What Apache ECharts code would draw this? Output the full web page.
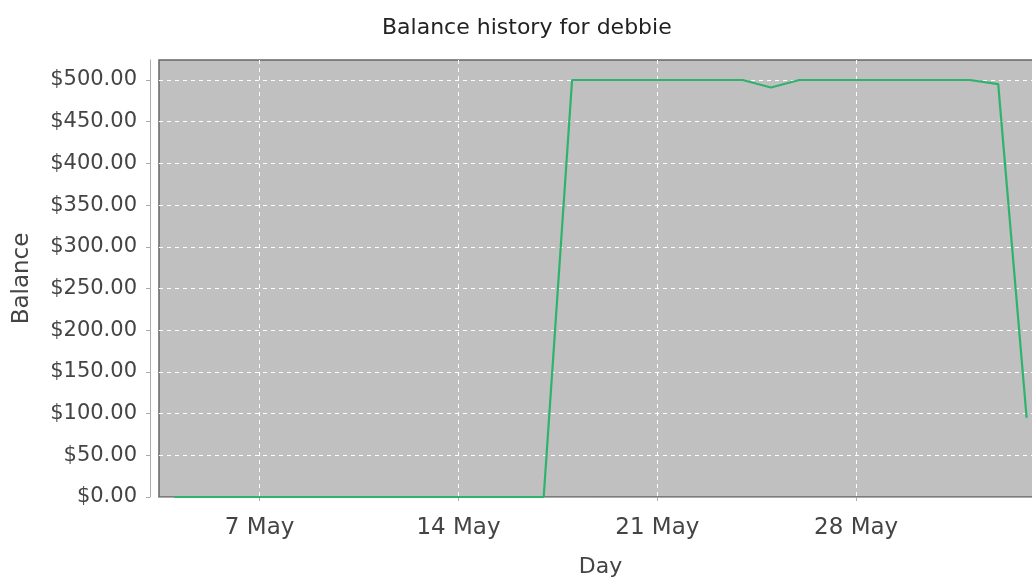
<!DOCTYPE html>
<html>
<head>
<meta charset="utf-8">
<script src="https://cdn.jsdelivr.net/npm/echarts@6/dist/echarts.min.js"></script>
<style>
  html, body { margin: 0; padding: 0; background: #ffffff; }
  #chart { width: 1032px; height: 578px; }
</style>
</head>
<body>
<div id="chart"></div>
<script>
// Daily balance for the account, one value per day
const days = [
  '2008-05-04', '2008-05-05', '2008-05-06', '2008-05-07', '2008-05-08',
  '2008-05-09', '2008-05-10', '2008-05-11', '2008-05-12', '2008-05-13',
  '2008-05-14', '2008-05-15', '2008-05-16', '2008-05-17', '2008-05-18',
  '2008-05-19', '2008-05-20', '2008-05-21', '2008-05-22', '2008-05-23',
  '2008-05-24', '2008-05-25', '2008-05-26', '2008-05-27', '2008-05-28',
  '2008-05-29', '2008-05-30', '2008-05-31', '2008-06-01', '2008-06-02',
  '2008-06-03'
];
const balances = [
  0, 0, 0, 0, 0,
  0, 0, 0, 0, 0,
  0, 0, 0, 0, 500,
  500, 500, 500, 500, 500,
  500, 491, 500, 500, 500,
  500, 500, 500, 500, 495,
  95
];

// Tick marks
const balanceTicks = [0, 50, 100, 150, 200, 250, 300, 350, 400, 450, 500];
const dayTicks = ['2008-05-07', '2008-05-14', '2008-05-21', '2008-05-28'];

const MONTHS = ['Jan', 'Feb', 'Mar', 'Apr', 'May', 'Jun', 'Jul', 'Aug', 'Sep', 'Oct', 'Nov', 'Dec'];
const toMs = s => Date.parse(s + 'T00:00:00Z');
const HOUR = 3600 * 1000;

const chart = echarts.init(document.getElementById('chart'), null, { renderer: 'canvas' });

const textColor = '#444444';
const font = 'DejaVu Sans';

chart.setOption({
  animation: false,
  backgroundColor: '#ffffff',
  title: {
    text: 'Balance history for debbie',
    left: 377,
    top: 12,
    textStyle: { fontFamily: font, fontSize: 22, fontWeight: 'normal', color: '#222222' }
  },
  grid: {
    left: 159,
    top: 60,
    right: -10,
    bottom: 81,
    outerBoundsMode: 'none',
    containLabel: false,
    show: true,
    backgroundColor: '#c0c0c0',
    borderColor: '#666666',
    borderWidth: 1.5
  },
  xAxis: {
    // day axis on a millisecond scale
    type: 'value',
    min: toMs(days[0]) - 13 * HOUR,
    max: toMs(days[days.length - 1]) + 13 * HOUR,
    offset: 9,
    name: 'Day',
    nameLocation: 'middle',
    nameGap: 50,
    nameTextStyle: { fontFamily: font, fontSize: 22, color: textColor },
    axisLine: { show: true, lineStyle: { color: '#aaaaaa', width: 1 } },
    axisTick: {
      show: true,
      length: 4,
      customValues: dayTicks.map(toMs),
      lineStyle: { color: '#aaaaaa' }
    },
    axisLabel: {
      customValues: dayTicks.map(toMs),
      fontFamily: font,
      fontSize: 23,
      color: textColor,
      margin: 11,
      formatter: v => {
        const d = new Date(v);
        return d.getUTCDate() + ' ' + MONTHS[d.getUTCMonth()];
      }
    },
    splitLine: {
      show: true,
      lineStyle: { color: '#ffffff', type: [4, 4], width: 1 }
    }
  },
  yAxis: {
    type: 'value',
    min: 0,
    max: 524,
    interval: 50,
    offset: 9,
    name: 'Balance',
    nameLocation: 'middle',
    nameGap: 116,
    nameRotate: 90,
    nameTextStyle: { fontFamily: font, fontSize: 23, color: textColor },
    axisLine: { show: true, lineStyle: { color: '#aaaaaa', width: 1 } },
    axisTick: {
      show: true,
      length: 4,
      customValues: balanceTicks,
      lineStyle: { color: '#aaaaaa' }
    },
    axisLabel: {
      customValues: balanceTicks,
      fontFamily: font,
      fontSize: 21,
      color: textColor,
      margin: 13,
      formatter: v => '$' + v.toFixed(2)
    },
    splitLine: {
      show: true,
      lineStyle: { color: '#ffffff', type: [4, 4], width: 1 }
    }
  },
  series: [{
    type: 'line',
    data: days.map((d, i) => [toMs(d), balances[i]]),
    showSymbol: false,
    lineStyle: { color: '#2db36b', width: 2.2 },
    itemStyle: { color: '#2db36b' },
    clip: true
  }]
});
</script>
</body>
</html>
